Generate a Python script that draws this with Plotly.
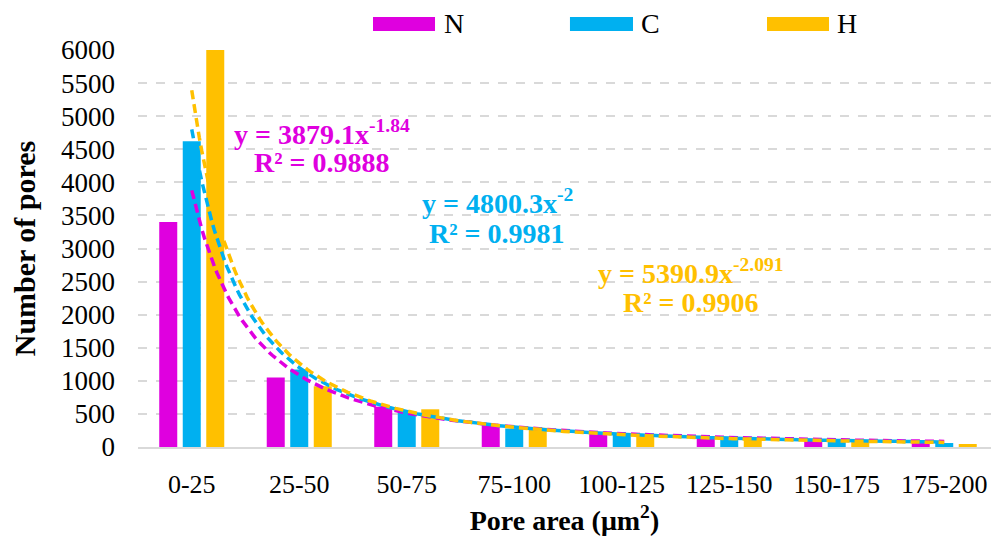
import numpy as np
import plotly.graph_objects as go

categories = ["0-25", "25-50", "50-75", "75-100", "100-125", "125-150", "150-175", "175-200"]
N_vals = [3400, 1050, 610, 330, 220, 140, 100, 60]
C_vals = [4620, 1170, 540, 280, 200, 120, 85, 60]
H_vals = [6000, 920, 570, 290, 190, 110, 75, 45]

series_names = ["N", "C", "H"]
colors = ["#DF00DF", "#00B0F0", "#FFC000"]

# power-law trendline coefficients as displayed on the chart: y = a * x^b
trend_a = [3879.1, 4800.3, 5390.9]
trend_b = [-1.84, -2.0, -2.091]
eq_labels = ["y = 3879.1x<sup>-1.84</sup>", "y = 4800.3x<sup>-2</sup>", "y = 5390.9x<sup>-2.091</sup>"]
r2_labels = ["R² = 0.9888", "R² = 0.9981", "R² = 0.9906"]
# label anchor positions (x in category units, y in data units): equation line, R² line
eq_pos = [(1.214, 4760), (2.842, 3710), (4.647, 2650)]
r2_pos = [(1.214, 4300), (2.842, 3230), (4.647, 2190)]

FONT = "Liberation Serif, Times New Roman, serif"
x_pos = list(range(len(categories)))

fig = go.Figure()
for name, vals, col in zip(series_names, [N_vals, C_vals, H_vals], colors):
    fig.add_trace(go.Bar(x=x_pos, y=vals, name=name, marker_color=col,
                         marker_line_width=0, showlegend=False))

xs = np.linspace(1, len(categories), 300)
for a, b, col in zip(trend_a, trend_b, colors):
    fig.add_trace(go.Scatter(x=xs - 1, y=a * xs ** b, mode="lines",
                             line=dict(color=col, width=3.5, dash="9px,5px"),
                             showlegend=False, hoverinfo="skip"))

annotations = []
for eq, r2, (ex, ey), (rx, ry), col in zip(eq_labels, r2_labels, eq_pos, r2_pos, colors):
    for txt, ax, ay in [(eq, ex, ey), (r2, rx, ry)]:
        annotations.append(dict(x=ax, y=ay, xref="x", yref="y", text=txt, showarrow=False,
                                xanchor="center", yanchor="middle",
                                font=dict(family=FONT, size=28, color=col, weight="bold")))

# custom legend (wide swatches)
shapes = []
leg_sw = [(0.2755, 0.3482),
          (0.5064, 0.5803),
          (0.7374, 0.8101)]
leg_tx = [0.3564, 0.5873, 0.8171]
for (x0, x1), tx, name, col in zip(leg_sw, leg_tx, series_names, colors):
    shapes.append(dict(type="rect", xref="paper", yref="paper", x0=x0, x1=x1,
                       y0=1.048, y1=1.083, fillcolor=col, line_width=0))
    annotations.append(dict(x=tx, y=1.0655, xref="paper", yref="paper", text=name,
                            showarrow=False, xanchor="left", yanchor="middle",
                            font=dict(family=FONT, size=28, color="black")))

fig.update_layout(
    width=991, height=536,
    margin=dict(l=138, r=0, t=50, b=89, autoexpand=False),
    plot_bgcolor="white", paper_bgcolor="white",
    barmode="group", bargap=0.344, bargroupgap=0.234,
    font=dict(family=FONT, size=24, color="black"),
    annotations=annotations, shapes=shapes,
    xaxis=dict(
        range=[-0.5, 7.435], tickmode="array", tickvals=x_pos, ticktext=categories,
        showgrid=False, zeroline=False, showline=True, linecolor="#D9D9D9", linewidth=1.5,
        ticks="", tickfont=dict(family=FONT, size=26, color="black"),
        ticklabelstandoff=13, automargin=False,
        title=dict(text="Pore area (μm<sup>2</sup>)", standoff=15,
                   font=dict(family=FONT, size=28, color="black", weight="bold")),
    ),
    yaxis=dict(
        range=[0, 6000], tick0=0, dtick=500,
        showgrid=True, gridcolor="#D9D9D9", griddash="dash", gridwidth=1.5,
        zeroline=False, showline=False, ticks="",
        tickfont=dict(family=FONT, size=27, color="black"),
        ticklabelstandoff=22, automargin=False,
        title=dict(text="Number of pores", standoff=16,
                   font=dict(family=FONT, size=30, color="black", weight="bold")),
    ),
)

fig.write_html("out.html")
